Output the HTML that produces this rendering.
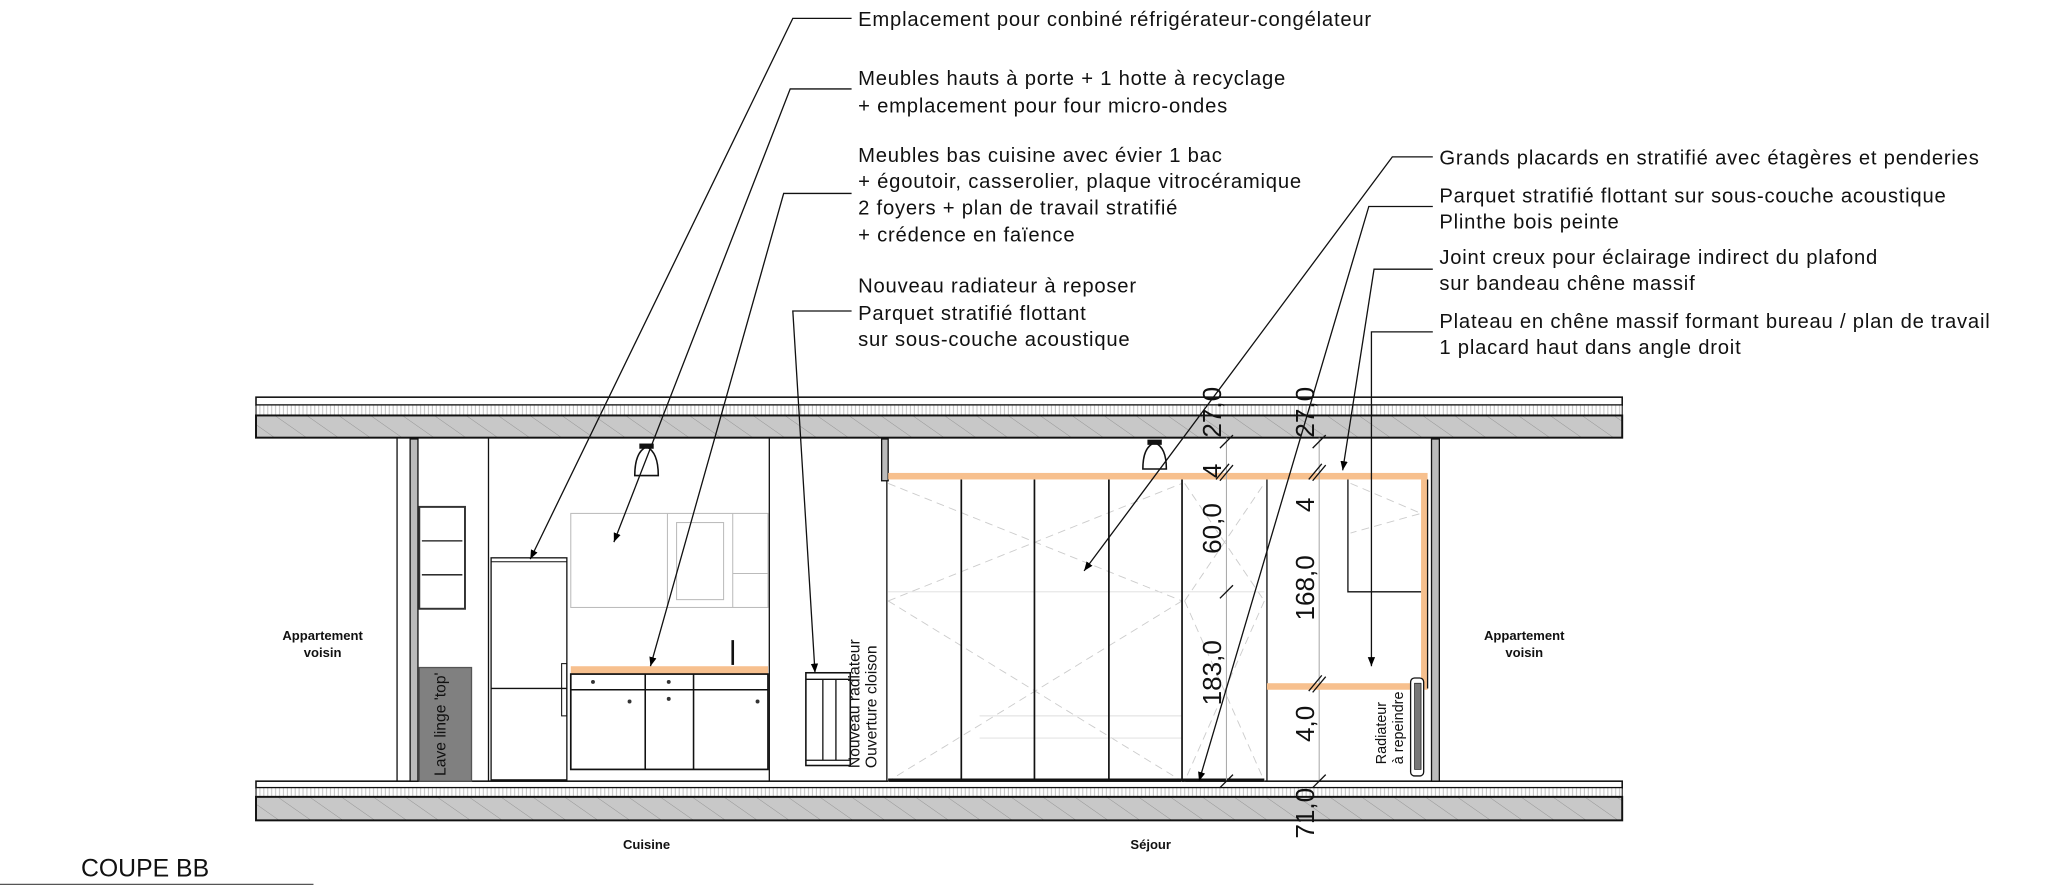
<!DOCTYPE html>
<html><head><meta charset="utf-8"><style>
html,body{margin:0;padding:0;background:#fff;}
svg{display:block;}
text{font-family:"Liberation Sans","DejaVu Sans",sans-serif;fill:#111;}
.t{font-size:15.5px;letter-spacing:0.6px;}
.b{font-size:10px;font-weight:bold;}
.d{font-size:20px;}
.s{font-size:12px;}
</style></head><body>
<svg width="2048" height="891" viewBox="0 0 1568 682" xmlns="http://www.w3.org/2000/svg">
<defs>
<pattern id="h" width="14" height="14" patternUnits="userSpaceOnUse" patternTransform="rotate(-55)">
<rect width="14" height="14" fill="#c8c8c8"/><line x1="0" y1="0" x2="0" y2="14" stroke="#888" stroke-width="0.6"/></pattern>
<pattern id="v" width="3" height="10" patternUnits="userSpaceOnUse">
<rect width="3" height="10" fill="#fff"/><line x1="1" y1="0" x2="1" y2="10" stroke="#bbb" stroke-width="0.7"/></pattern>
<marker id="a" viewBox="0 0 10 10" refX="10" refY="5" markerWidth="7" markerHeight="7" orient="auto-start-reverse"><path d="M0,1 L10,5 L0,9 z" fill="#000"/></marker>
</defs>
<g stroke="#111">
<rect x="196" y="304" width="1046" height="6" fill="#fff" stroke-width="1.2"/>
<rect x="196" y="310" width="1046" height="8" fill="url(#v)" stroke-width="0.8"/>
<rect x="196" y="318" width="1046" height="17" fill="url(#h)" stroke-width="1.5"/>
<rect x="196" y="598" width="1046" height="5" fill="#fff" stroke-width="1.2"/>
<rect x="196" y="603" width="1046" height="7" fill="url(#v)" stroke-width="0.8"/>
<rect x="196" y="610" width="1046" height="18" fill="url(#h)" stroke-width="1.5"/>
</g>
<g stroke="#111" fill="none">
<line x1="304" y1="335" x2="304" y2="598" stroke-width="1"/>
<rect x="314" y="336" width="6" height="262" fill="#bbb" stroke-width="1"/>
<line x1="374" y1="335" x2="374" y2="598" stroke-width="1"/>
<line x1="589" y1="335" x2="589" y2="598" stroke-width="1"/>
<rect x="321" y="388" width="35" height="78" stroke-width="1.5" stroke="#333"/>
<line x1="323" y1="414" x2="354" y2="414" stroke-width="1"/>
<line x1="323" y1="440" x2="354" y2="440" stroke-width="1"/>
<rect x="321" y="511" width="40" height="87" fill="#808080" stroke="#555"/>
<rect x="376" y="427" width="58" height="170" stroke-width="1"/>
<line x1="376" y1="430" x2="434" y2="430" stroke-width="0.8"/>
<line x1="376" y1="527" x2="434" y2="527" stroke-width="1"/>
<rect x="430" y="508" width="4" height="40" stroke-width="0.8"/>
<g stroke="#bbb" stroke-width="0.8">
<rect x="437" y="393" width="151" height="72"/>
<line x1="511" y1="393" x2="511" y2="465"/><line x1="561" y1="393" x2="561" y2="465"/>
<rect x="518" y="400" width="36" height="59"/><line x1="561" y1="439" x2="588" y2="439"/>
</g>
<path d="M486,364 Q486,346 495,342 Q504,346 504,364 Z" stroke-width="1.2" fill="#fff"/>
<rect x="490" y="340" width="10" height="3" fill="#111"/>
<path d="M875,359 Q875,342 884,339 Q893,342 893,359 Z" stroke-width="1.2" fill="#fff"/>
<rect x="879" y="337" width="10" height="3" fill="#111"/>
<rect x="437" y="510" width="151" height="6" fill="#f7c08e" stroke="none"/>
<rect x="437" y="516" width="151" height="73" stroke-width="1.3"/>
<line x1="437" y1="528" x2="588" y2="528" stroke-width="1.2"/>
<line x1="494" y1="516" x2="494" y2="589" stroke-width="1.2"/>
<line x1="531" y1="516" x2="531" y2="589" stroke-width="1.2"/>
<line x1="561" y1="490" x2="561" y2="509" stroke-width="2"/>
<rect x="617" y="515" width="34" height="71" stroke-width="1.2"/>
<line x1="617" y1="520" x2="651" y2="520"/><line x1="617" y1="582" x2="651" y2="582"/>
<line x1="630" y1="520" x2="630" y2="582"/><line x1="640" y1="520" x2="640" y2="582"/>
<rect x="675" y="336" width="5" height="32" fill="#bbb"/>
<line x1="679" y1="368" x2="679" y2="598"/>
</g>
<g fill="#333"><circle cx="454" cy="522" r="1.5"/><circle cx="512" cy="522" r="1.5"/><circle cx="512" cy="535" r="1.5"/><circle cx="482" cy="537" r="1.5"/><circle cx="580" cy="537" r="1.5"/></g>
<g stroke="#ccc" stroke-width="0.7" stroke-dasharray="6,4" fill="none">
<path d="M680,370 L905,460 M680,460 L905,370 M680,460 L905,598 M905,460 L680,598"/>
<path d="M907,370 L968,460 M907,460 L968,370 M907,460 L968,598 M968,460 L907,598"/>
<path d="M1034,370 L1088,393 L1034,408"/>
</g>
<g stroke="#ddd" stroke-width="0.7"><line x1="680" y1="453" x2="968" y2="453"/><line x1="750" y1="548" x2="905" y2="548"/><line x1="750" y1="565" x2="905" y2="565"/></g>
<rect x="680" y="362" width="413" height="5" fill="#f7c08e"/>
<g stroke="#111" stroke-width="1.3">
<line x1="736" y1="367" x2="736" y2="597"/><line x1="792" y1="367" x2="792" y2="597"/>
<line x1="849" y1="367" x2="849" y2="597"/><line x1="905" y1="367" x2="905" y2="597"/>
<line x1="680" y1="597" x2="968" y2="597" stroke-width="2"/>
<line x1="970" y1="367" x2="970" y2="598" stroke-width="1"/>
</g>
<line x1="939" y1="335" x2="939" y2="598" stroke="#aaa" stroke-width="0.8"/>
<line x1="1010" y1="335" x2="1010" y2="598" stroke="#aaa" stroke-width="0.8"/>
<rect x="1088" y="367" width="5" height="160" fill="#f7c08e"/>
<rect x="970" y="523" width="123" height="5" fill="#f7c08e"/>
<path d="M1032,367 V453 H1088" stroke="#111" fill="none" stroke-width="1"/>
<line x1="1093" y1="367" x2="1093" y2="527" stroke="#111" stroke-width="1"/>
<rect x="1096" y="336" width="6" height="262" fill="#bbb" stroke="#111"/>
<rect x="1080" y="519" width="10" height="75" rx="3" fill="#fff" stroke="#111"/>
<rect x="1083" y="523" width="5" height="66" fill="#777" stroke="#111" stroke-width="0.5"/>
<g stroke="#111" stroke-width="1">
<line x1="934" y1="343" x2="944" y2="333"/><line x1="934" y1="368" x2="944" y2="356"/><line x1="931" y1="367" x2="941" y2="355"/>
<line x1="934" y1="458" x2="944" y2="448"/><line x1="934" y1="603" x2="944" y2="593"/>
<line x1="1005" y1="343" x2="1015" y2="333"/><line x1="1005" y1="368" x2="1015" y2="356"/><line x1="1002" y1="367" x2="1012" y2="355"/>
<line x1="1005" y1="530" x2="1015" y2="518"/><line x1="1002" y1="529" x2="1012" y2="517"/><line x1="1005" y1="603" x2="1015" y2="593"/>
</g>
<g stroke="#111" stroke-width="1" fill="none" marker-end="url(#a)">
<path d="M652,14 H607 L406,428"/>
<path d="M652,68 H605 L470,415"/>
<path d="M652,148 H600 L498,510"/>
<path d="M652,238 H607 L624,515"/>
<path d="M1097,120 H1066 L830,437"/>
<path d="M1097,158 H1048 L918,598"/>
<path d="M1097,206 H1052 L1028,360"/>
<path d="M1097,254 H1050 L1050,510"/>
</g>
<g class="t">
<text x="657" y="20">Emplacement pour conbiné réfrigérateur-congélateur</text>
<text x="657" y="65">Meubles hauts à porte + 1 hotte à recyclage</text>
<text x="657" y="86">+ emplacement pour four micro-ondes</text>
<text x="657" y="124">Meubles bas cuisine avec évier 1 bac</text>
<text x="657" y="144">+ égoutoir, casserolier, plaque vitrocéramique</text>
<text x="657" y="164">2 foyers + plan de travail stratifié</text>
<text x="657" y="185">+ crédence en faïence</text>
<text x="657" y="224">Nouveau radiateur à reposer</text>
<text x="657" y="245">Parquet stratifié flottant</text>
<text x="657" y="265">sur sous-couche acoustique</text>
<text x="1102" y="126">Grands placards en stratifié avec étagères et penderies</text>
<text x="1102" y="155">Parquet stratifié flottant sur sous-couche acoustique</text>
<text x="1102" y="175">Plinthe bois peinte</text>
<text x="1102" y="202">Joint creux pour éclairage indirect du plafond</text>
<text x="1102" y="222">sur bandeau chêne massif</text>
<text x="1102" y="251">Plateau en chêne massif formant bureau / plan de travail</text>
<text x="1102" y="271">1 placard haut dans angle droit</text>
</g>
<g class="b" text-anchor="middle">
<text x="247" y="490">Appartement</text><text x="247" y="503">voisin</text>
<text x="1167" y="490">Appartement</text><text x="1167" y="503">voisin</text>
<text x="495" y="650">Cuisine</text><text x="881" y="650">Séjour</text>
</g>
<text x="62" y="671" style="font-size:19px">COUPE BB</text>
<line x1="0" y1="677" x2="240" y2="677" stroke="#555" stroke-width="1"/>
<g class="s">
<text transform="translate(341,594) rotate(-90)">Lave linge 'top'</text>
<text transform="translate(658,588) rotate(-90)">Nouveau radiateur</text>
<text transform="translate(671,588) rotate(-90)">Ouverture cloison</text>
<text transform="translate(1061,585) rotate(-90)" style="font-size:11px">Radiateur</text>
<text transform="translate(1074,585) rotate(-90)" style="font-size:11px">à repeindre</text>
</g>
<g class="d">
<text transform="translate(935,335) rotate(-90)">27,0</text>
<text transform="translate(935,366) rotate(-90)">4</text>
<text transform="translate(935,424) rotate(-90)">60,0</text>
<text transform="translate(935,540) rotate(-90)">183,0</text>
<text transform="translate(1006,335) rotate(-90)">27,0</text>
<text transform="translate(1006,392) rotate(-90)">4</text>
<text transform="translate(1006,475) rotate(-90)">168,0</text>
<text transform="translate(1006,568) rotate(-90)">4,0</text>
<text transform="translate(1006,642) rotate(-90)">71,0</text>
</g>
</svg>
</body></html>
